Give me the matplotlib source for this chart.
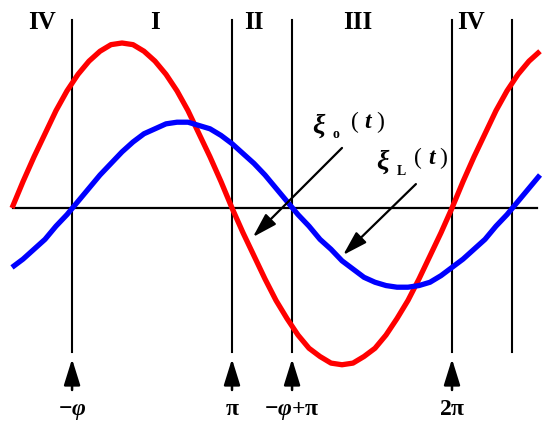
import matplotlib.pyplot as plt

plt.rcParams["mathtext.fontset"] = "custom"
plt.rcParams["mathtext.rm"] = "Liberation Serif:bold"
plt.rcParams["mathtext.it"] = "Liberation Serif:italic:bold"
plt.rcParams["mathtext.bf"] = "Liberation Serif:bold"

# phase t in units of pi, sampled every 0.05*pi
t_pi = [round(0.05 * k, 2) for k in range(49)]
# curve values (red amplitude = 1)
xi_o = [0, 0.16, 0.31, 0.45, 0.59, 0.71, 0.81, 0.89, 0.95, 0.99,
        1.0, 0.99, 0.95, 0.89, 0.81, 0.71, 0.59, 0.45, 0.31, 0.16,
        0, -0.15, -0.29, -0.43, -0.56, -0.67, -0.77, -0.85, -0.90, -0.94,
        -0.95, -0.94, -0.90, -0.85, -0.77, -0.67, -0.56, -0.43, -0.29, -0.15,
        0, 0.16, 0.31, 0.45, 0.59, 0.71, 0.81, 0.89, 0.95]
xi_L = [-0.36, -0.31, -0.25, -0.19, -0.11, -0.04, 0.04, 0.12, 0.20, 0.27,
        0.34, 0.40, 0.45, 0.48, 0.51, 0.52, 0.52, 0.50, 0.48, 0.44,
        0.39, 0.33, 0.27, 0.20, 0.12, 0.04, -0.04, -0.11, -0.19, -0.25,
        -0.32, -0.37, -0.42, -0.45, -0.47, -0.48, -0.48, -0.47, -0.45, -0.41,
        -0.36, -0.31, -0.25, -0.19, -0.11, -0.04, 0.04, 0.12, 0.20]

phi = 0.273
vlines = [phi, 1.0, 1.0 + phi, 2.0, 2.0 + phi]
marks = [phi, 1.0, 1.0 + phi, 2.0]
mark_labels = [r"$\mathrm{-}\varphi$", r"$\mathrm{\pi}$",
               r"$\mathrm{-}\varphi\mathrm{+\pi}$", r"$\mathrm{2\pi}$"]
regions = ["IV", "I", "II", "III", "IV"]
region_x = [0.136, 0.65, 1.1, 1.573, 2.086]

serif = "Liberation Serif"

fig = plt.figure(figsize=(5.5, 4.34), dpi=100)
ax = fig.add_axes([0, 0, 1, 1])
ax.set_xlim(-12 / 220, 538 / 220)
ax.set_ylim(-226 / 165, 208 / 165)
ax.axis("off")

ax.plot([0.005, 2.386], [0, 0], color="black", lw=1.6)
for x in vlines:
    ax.plot([x, x], [-0.873, 1.139], color="black", lw=1.5)

ax.plot(t_pi, xi_o, color="#ff0000", lw=3.8, solid_capstyle="butt")
ax.plot(t_pi, xi_L, color="#0000ff", lw=3.8, solid_capstyle="butt")

for x, lab in zip(region_x, regions):
    ax.text(x, 1.127, lab, ha="center", va="center", fontsize=18,
            fontweight="bold", family=serif)

for x, lab in zip(marks, mark_labels):
    ax.annotate("", xy=(x, -0.915), xytext=(x, -1.103),
                arrowprops=dict(arrowstyle="-|>,head_length=1.6,head_width=0.5",
                                color="black", lw=1.8, mutation_scale=10,
                                shrinkA=0, shrinkB=0))
    ax.text(x, -1.255, lab, ha="center", va="baseline", fontsize=17)

# pointer arrows to the curves
arrow_kw = dict(arrowstyle="-|>,head_length=1.5,head_width=0.45",
                color="black", lw=1.6, mutation_scale=10, shrinkA=0, shrinkB=0)
ax.annotate("", xy=(1.095, -0.176), xytext=(1.5, 0.364), arrowprops=arrow_kw)
ax.annotate("", xy=(1.505, -0.285), xytext=(1.836, 0.145), arrowprops=arrow_kw)

# labels xi_o(t) and xi_L(t)
for (xx, yy, sub, sx, sy, px) in [(1.395, 0.497, "o", 1.473, 0.448, [1.559, 1.618, 1.673]),
                                  (1.682, 0.279, "L", 1.768, 0.224, [1.845, 1.905, 1.959])]:
    ax.text(xx, yy, "\u03be", ha="center", va="center", fontsize=20,
            fontweight="bold", fontstyle="italic", family=serif)
    ax.text(sx, sy, sub, ha="center", va="center", fontsize=10,
            fontweight="bold", family=serif)
    ax.text(px[0], yy + 0.02, "(", ha="center", va="center", fontsize=17, family=serif)
    ax.text(px[1], yy + 0.02, "t", ha="center", va="center", fontsize=17,
            fontweight="bold", fontstyle="italic", family=serif)
    ax.text(px[2], yy + 0.02, ")", ha="center", va="center", fontsize=17, family=serif)

fig.savefig("out.png", dpi=100)
